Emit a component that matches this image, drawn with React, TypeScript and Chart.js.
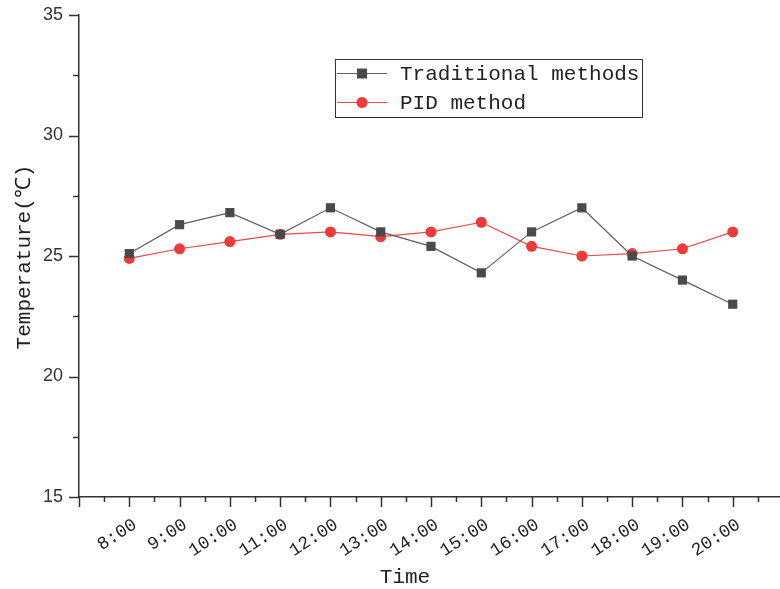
import React, { useEffect, useRef } from "react";
import { Chart, registerables } from "chart.js";

Chart.register(...registerables);

const categories = ["8:00", "9:00", "10:00", "11:00", "12:00", "13:00", "14:00", "15:00", "16:00", "17:00", "18:00", "19:00", "20:00"];
const traditional = [25.1, 26.3, 26.8, 25.9, 27.0, 26.0, 25.4, 24.3, 26.0, 27.0, 25.0, 24.0, 23.0];
const pid = [24.9, 25.3, 25.6, 25.9, 26.0, 25.8, 26.0, 26.4, 25.4, 25.0, 25.1, 25.3, 26.0];
const yTicks = [15, 20, 25, 30, 35];
const seriesNames = ["Traditional methods", "PID method"];
const xTitle = "Time";
const yTitle = "Temperature(℃)";

const hours = categories.map((c) => parseInt(c, 10));
const MONO = '"Liberation Mono", monospace';
const AXIS = "#333333";

const decorPlugin = {
  id: "decor",
  afterDraw(chart: any) {
    const ctx = chart.ctx;
    const xs = chart.scales.x;
    const ys = chart.scales.y;
    const area = chart.chartArea;
    ctx.save();
    ctx.strokeStyle = AXIS;
    ctx.lineWidth = 1.5;
    for (let v = xs.min; v <= xs.max + 1e-6; v += 0.5) {
      const px = Math.round(xs.getPixelForValue(v)) + 0.5;
      const major = Math.abs(v - Math.round(v)) < 1e-6;
      ctx.beginPath();
      ctx.moveTo(px, area.bottom);
      ctx.lineTo(px, area.bottom + (major ? 10 : 5));
      ctx.stroke();
    }
    for (let v = ys.min; v <= ys.max + 1e-6; v += 2.5) {
      const py = Math.round(ys.getPixelForValue(v)) + 0.5;
      const major = Math.abs(v / 5 - Math.round(v / 5)) < 1e-6;
      ctx.beginPath();
      ctx.moveTo(area.left, py);
      ctx.lineTo(area.left - (major ? 10 : 6), py);
      ctx.stroke();
    }
    ctx.fillStyle = "#222";
    ctx.font = `21px ${MONO}`;
    ctx.textAlign = "center";
    ctx.textBaseline = "middle";
    ctx.fillText(xTitle, 405, 577);
    ctx.save();
    ctx.translate(24, 257);
    ctx.rotate(-Math.PI / 2);
    ctx.fillText(yTitle, 0, 0);
    ctx.restore();
    const bx = 335.5, by = 59.5, bw = 307, bh = 58;
    ctx.lineWidth = 1;
    ctx.strokeStyle = "#333";
    ctx.strokeRect(bx, by, bw, bh);
    const rows = [73, 102];
    chart.data.datasets.forEach((ds: any, i: number) => {
      const y = rows[i];
      ctx.strokeStyle = ds.borderColor;
      ctx.lineWidth = 1;
      ctx.beginPath();
      ctx.moveTo(337, y + 0.5);
      ctx.lineTo(387, y + 0.5);
      ctx.stroke();
      ctx.fillStyle = ds.pointBackgroundColor;
      if (ds.pointStyle === "rect") {
        ctx.fillRect(357, y - 4.5, 10, 10);
      } else {
        ctx.beginPath();
        ctx.arc(362, y + 0.5, 5.5, 0, Math.PI * 2);
        ctx.fill();
      }
      ctx.fillStyle = "#222";
      ctx.textAlign = "left";
      ctx.textBaseline = "middle";
      ctx.font = `21px ${MONO}`;
      ctx.fillText(ds.label, 400, y + 1);
    });
    ctx.restore();
  },
};

export default function App() {
  const ref = useRef<HTMLCanvasElement | null>(null);
  useEffect(() => {
    if (!ref.current) return;
    const chart = new Chart(ref.current, {
      type: "line",
      data: {
        datasets: [
          {
            label: seriesNames[0],
            data: hours.map((h, i) => ({ x: h, y: traditional[i] })),
            borderColor: "#5e5e5e",
            borderWidth: 1.2,
            pointStyle: "rect",
            pointRadius: 6.5,
            pointBackgroundColor: "#4a4a4a",
            pointBorderColor: "#4a4a4a",
            pointBorderWidth: 0,
            tension: 0,
          },
          {
            label: seriesNames[1],
            data: hours.map((h, i) => ({ x: h, y: pid[i] })),
            borderColor: "#f04848",
            borderWidth: 1.2,
            pointStyle: "circle",
            pointRadius: 5.5,
            pointBackgroundColor: "#ee3a3a",
            pointBorderColor: "#ee3a3a",
            pointBorderWidth: 0,
            tension: 0,
          },
        ],
      },
      options: {
        animation: false,
        responsive: false,
        maintainAspectRatio: false,
        layout: { padding: { top: 15, right: 7, left: 0, bottom: 0 } },
        plugins: { legend: { display: false }, tooltip: { enabled: false } },
        scales: {
          x: {
            type: "linear",
            min: 7,
            max: 21,
            afterFit: (s: any) => {
              s.height = 92;
              s.paddingLeft = 0;
              s.paddingRight = 0;
            },
            border: { display: true, color: AXIS, width: 1.5 },
            grid: { display: true, drawOnChartArea: false, drawTicks: false },
            ticks: {
              stepSize: 1,
              autoSkip: false,
              maxRotation: 33,
              minRotation: 33,
              padding: 17,
              labelOffset: 6,
              color: "#222",
              font: { family: MONO, size: 18 },
              callback: (v: any) => {
                const i = hours.indexOf(Number(v));
                return i >= 0 ? categories[i] : "";
              },
            },
          },
          y: {
            min: 15,
            max: 35,
            afterFit: (s: any) => {
              s.width = 79;
              s.paddingTop = 0;
              s.paddingBottom = 0;
            },
            afterBuildTicks: (s: any) => {
              s.ticks = yTicks.map((v) => ({ value: v }));
            },
            border: { display: true, color: AXIS, width: 1.5 },
            grid: { display: true, drawOnChartArea: false, drawTicks: false },
            ticks: {
              padding: 16,
              color: "#333",
              font: { family: '"Liberation Sans", Arial, sans-serif', size: 18 },
            },
          },
        },
      },
      plugins: [decorPlugin],
    });
    return () => chart.destroy();
  }, []);
  return (
    <div style={{ position: "fixed", left: 0, top: 0, width: 780, height: 589, overflow: "hidden", background: "#fff" }}>
      <canvas ref={ref} width={790} height={589} style={{ display: "block" }} />
    </div>
  );
}
